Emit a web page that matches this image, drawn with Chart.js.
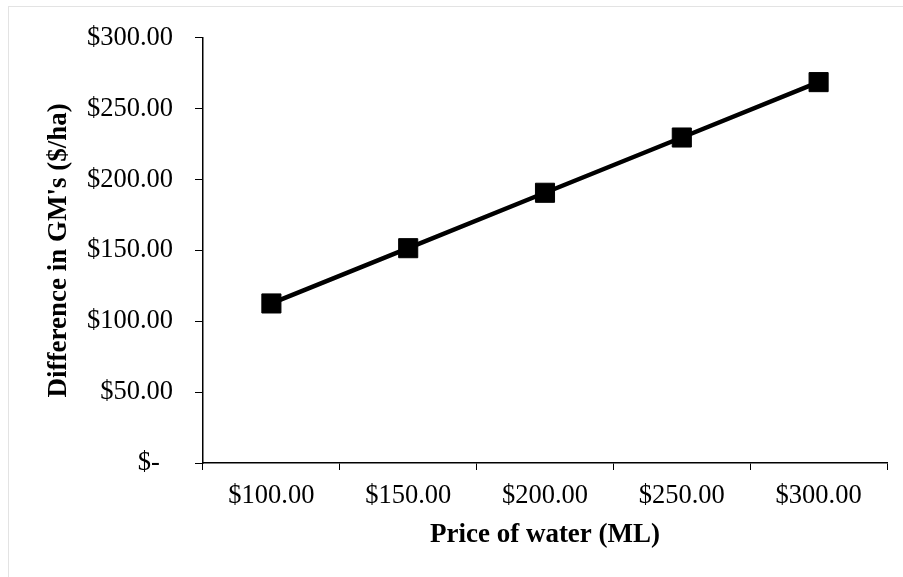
<!DOCTYPE html>
<html>
<head>
<meta charset="utf-8">
<script src="https://cdn.jsdelivr.net/npm/chart.js@4.4.1/dist/chart.umd.min.js"></script>
<style>
  html, body { margin: 0; padding: 0; background: #fff; overflow: hidden; }
  #frame { position: absolute; left: 8px; top: 6px; width: 920px; height: 600px; border: 1px solid #e3e3e3; box-sizing: border-box; }
  #wrap { position: absolute; left: 0; top: 0; width: 903px; height: 577px; }
</style>
</head>
<body>
<div id="frame"></div>
<div id="wrap"><canvas id="gmChart" width="903" height="577"></canvas></div>
<script>
// Data
const priceLabels = ['$100.00', '$150.00', '$200.00', '$250.00', '$300.00'];
const gmDifference = [112.6, 151.6, 190.7, 229.7, 268.8];
const yTicks = [0, 50, 100, 150, 200, 250, 300];

const serif = "'Liberation Serif', 'Times New Roman', serif";

function money(v) {
    if (v === 0) return '$-  ';
    return '$' + v.toFixed(2);
}

const ctx = document.getElementById('gmChart');
new Chart(ctx, {
    type: 'line',
    data: {
        labels: priceLabels,
        datasets: [{
            label: 'Difference in GM\'s',
            data: gmDifference,
            borderColor: '#000',
            backgroundColor: '#000',
            borderWidth: 4.5,
            tension: 0,
            pointStyle: 'rect',
            pointRadius: 13.5,
            pointBorderWidth: 1,
            pointBorderColor: '#000',
            pointBackgroundColor: '#000'
        }]
    },
    options: {
        responsive: false,
        animation: false,
        layout: { padding: { left: 20, right: 16, top: 35, bottom: 20 } },
        plugins: {
            legend: { display: false },
            tooltip: { enabled: false }
        },
        scales: {
            x: {
                offset: true,
                grid: { offset: true, drawOnChartArea: false, drawTicks: true, tickLength: 7, tickColor: '#000' },
                border: { color: '#000', width: 1.5 },
                ticks: { color: '#000', font: { family: serif, size: 26.5 }, padding: 10, maxRotation: 0 },
                title: { display: true, text: 'Price of water (ML)', color: '#000', font: { family: serif, size: 27, weight: 'bold' }, padding: { top: 4, bottom: 6 } },
                afterFit: s => { s.height = 577 - 463 - 20; }
            },
            y: {
                min: 0,
                max: 300,
                afterBuildTicks: s => { s.ticks = yTicks.map(v => ({ value: v })); },
                grid: { drawOnChartArea: false, drawTicks: true, tickLength: 8, tickColor: '#000' },
                border: { color: '#000', width: 1.5 },
                ticks: { color: '#000', font: { family: serif, size: 26.5 }, padding: 22, callback: v => money(v) },
                title: { display: true, text: 'Difference in GM\'s ($/ha)', color: '#000', font: { family: serif, size: 27, weight: 'bold' }, padding: { top: 23, bottom: 0 } },
                afterFit: s => { s.width = 203 - 20; }
            }
        }
    }
});
</script>
</body>
</html>
